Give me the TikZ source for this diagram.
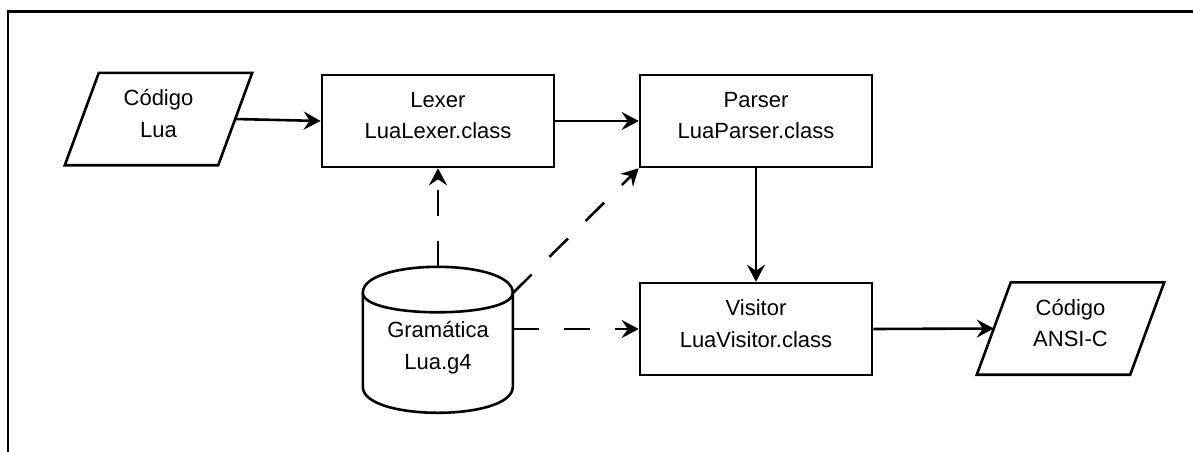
\documentclass[tikz,border=0pt]{standalone}
\usepackage{fontspec}
\setmainfont{Liberation Sans}
\usetikzlibrary{arrows.meta,calc}

\tikzset{
  every picture/.style={x=1pt,y=-1pt},
  lw/.style={line width=2.6pt},
  lbl/.style={font=\fontsize{22pt}{31.5pt}\selectfont, align=center, inner sep=0pt},
  box/.style={lw, draw, rectangle, minimum width=232pt, minimum height=92pt, inner sep=0pt},
  iospace/.style={rectangle, minimum width=187pt, minimum height=92pt, inner sep=0pt},
  flow/.style={lw, -{Stealth[length=17pt,width=18pt,inset=6pt]}},
  dep/.style={flow, dash pattern=on 26pt off 25pt},
}
% slanted input/output outline over the extent of a named node
\newcommand{\ioshape}[1]{%
  \draw[lw, line join=miter] (#1.south west) -- ($(#1.north west)+(34,0)$)
    -- (#1.north east) -- ($(#1.south east)+(-34,0)$) -- cycle;}

\begin{document}
\begin{tikzpicture}
\useasboundingbox (0,0) rectangle (1193,452);
\clip (0,0) rectangle (1193,452);

% outer frame
\draw[lw] (8,11.5) rectangle (1230,490);

% process boxes
\node[box, label={[lbl,yshift=5.5pt]center:Lexer\\LuaLexer.class}]   (lexer)   at (438,121) {};
\node[box, label={[lbl,yshift=5.5pt]center:Parser\\LuaParser.class}] (parser)  at (756,121) {};
\node[box, label={[lbl,yshift=5.5pt]center:Visitor\\LuaVisitor.class}] (visitor) at (756,329) {};

% input / output
\node[iospace, label={[lbl,yshift=5.5pt]center:Código\\Lua}]    (lua)  at (158.5,119) {};
\node[iospace, label={[lbl,yshift=5.5pt]center:Código\\ANSI-C}] (ansi) at (1070.5,328.5) {};
\ioshape{lua}
\ioshape{ansi}
\coordinate (luaout) at ($(lua.east)+(-17,0)$);
\coordinate (ansiin) at ($(ansi.west)+(17,0)$);

% grammar store (cylinder)
\node[minimum width=150pt, minimum height=146pt, inner sep=0pt] (gram) at (438,340) {};
\begin{scope}[shift={(gram.north west)}]
  \draw[lw, line join=round] (0,26) .. controls (0,-8.67) and (150,-8.67) .. (150,26)
        -- (150,120) .. controls (150,154.67) and (0,154.67) .. (0,120) -- cycle;
  \draw[lw] (0,26) .. controls (0,52) and (150,52) .. (150,26);
\end{scope}
\node[lbl] (gramtext) at (438,347.5) {Gramática\\Lua.g4};
\coordinate (gramcorner) at ($(gram.north east)+(0,26)$);

% data flow
\draw[flow] (luaout) -- (lexer.west);
\draw[flow] (lexer.east) -- (parser.west);
\draw[flow] (parser.south) -- (visitor.north);
\draw[flow] (visitor.east) -- (ansiin);

% grammar dependencies
\draw[dep] (gram.north) -- (lexer.south);
\draw[dep] (gramcorner) -- (parser.south west);
\draw[dep] (gram.east |- visitor.west) -- (visitor.west);
\end{tikzpicture}
\end{document}
